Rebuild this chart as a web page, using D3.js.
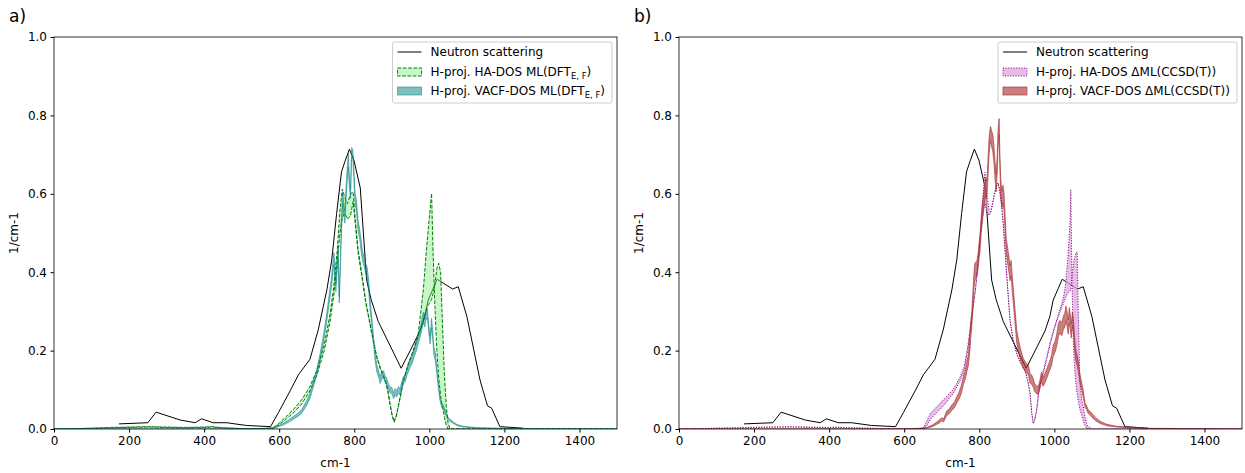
<!DOCTYPE html>
<html>
<head>
<meta charset="utf-8">
<script src="https://cdn.jsdelivr.net/npm/d3@7"></script>
<style>
  body { margin: 0; background: #fff; }
  svg { font-family: "DejaVu Sans", sans-serif; }
</style>
</head>
<body>
<div id="chart"></div>
<script>
// Neutron scattering (same curve in both panels)
const neutronX = [173, 250, 272, 336, 376, 393, 424, 460, 513, 577, 598, 629, 651, 682, 704, 727, 740, 753, 766, 775, 787, 799, 816, 833, 845, 864, 925, 949, 975, 988, 997, 1021, 1062, 1077, 1100, 1135, 1155, 1166, 1188, 1250];
const neutronY = [0.013, 0.016, 0.043, 0.023, 0.016, 0.026, 0.016, 0.016, 0.009, 0.006, 0.042, 0.097, 0.138, 0.178, 0.253, 0.355, 0.431, 0.55, 0.656, 0.682, 0.714, 0.686, 0.615, 0.38, 0.33, 0.274, 0.155, 0.2, 0.25, 0.287, 0.329, 0.382, 0.357, 0.363, 0.287, 0.125, 0.059, 0.053, 0.006, 0.002];

// a) H-proj. HA-DOS ML(DFT_E,F): two curves, band between them
const haA_x  = [0, 60, 100, 150, 200, 250, 300, 350, 400, 420, 450, 500, 550, 580, 600, 620, 640, 660, 680, 700, 720, 735, 745, 755, 762, 768, 775, 782, 790, 797, 803, 810, 820, 830, 840, 850, 860, 870, 880, 885, 890, 895, 900, 906, 912, 917, 925, 931, 945, 957, 970, 984, 993, 1000, 1006, 1010, 1015, 1020, 1025, 1030, 1035, 1040, 1045, 1050, 1055, 1100, 1500];
const haA_y1 = [0, 0.001, 0.002, 0.004, 0.005, 0.006, 0.005, 0.004, 0.005, 0.006, 0.003, 0.001, 0.0005, 0, 0.015, 0.033, 0.052, 0.075, 0.105, 0.148, 0.215, 0.29, 0.36, 0.46, 0.56, 0.612, 0.59, 0.575, 0.6, 0.605, 0.53, 0.46, 0.397, 0.33, 0.28, 0.23, 0.185, 0.155, 0.13, 0.117, 0.095, 0.066, 0.04, 0.019, 0.035, 0.057, 0.095, 0.125, 0.17, 0.2, 0.24, 0.355, 0.465, 0.54, 0.601, 0.45, 0.31, 0.2, 0.13, 0.085, 0.055, 0.03, 0.01, 0, 0, 0, 0];
const haA_y2 = [0, 0.001, 0.002, 0.003, 0.004, 0.005, 0.004, 0.003, 0.004, 0.005, 0.003, 0.001, 0.0005, 0, 0.011, 0.026, 0.043, 0.064, 0.094, 0.136, 0.2, 0.272, 0.338, 0.43, 0.5, 0.54, 0.55, 0.535, 0.545, 0.58, 0.52, 0.45, 0.39, 0.325, 0.276, 0.226, 0.182, 0.152, 0.128, 0.115, 0.093, 0.064, 0.038, 0.017, 0.033, 0.055, 0.092, 0.122, 0.167, 0.197, 0.236, 0.278, 0.31, 0.32, 0.33, 0.345, 0.37, 0.41, 0.423, 0.4, 0.27, 0.14, 0.06, 0.015, 0, 0, 0];

// a) H-proj. VACF-DOS ML(DFT_E,F): noisy narrow band
const vacfA_x  = [0, 100, 200, 300, 400, 500, 560, 590, 610, 625, 640, 650, 660, 673, 682, 691, 700, 709, 718, 727, 733, 740, 744, 746, 749, 751, 754, 757, 760, 763, 766, 769, 772, 775, 778, 781, 784, 787, 790, 793, 796, 799, 802, 806, 810, 814, 818, 822, 826, 830, 834, 838, 842, 846, 851, 856, 860, 865, 869, 873, 878, 882, 886, 890, 895, 900, 905, 909, 913, 918, 922, 926, 931, 936, 940, 945, 949, 954, 958, 962, 967, 971, 975, 979, 984, 988, 991, 995, 998, 1002, 1006, 1009, 1012, 1016, 1019, 1023, 1028, 1033, 1037, 1042, 1046, 1050, 1055, 1064, 1073, 1085, 1100, 1135, 1200, 1300, 1500];
const vacfA_lo = [0, 0, 0, 0, 0, 0, 0.001, 0.003, 0.01, 0.017, 0.026, 0.032, 0.04, 0.06, 0.078, 0.107, 0.138, 0.175, 0.22, 0.275, 0.318, 0.368, 0.405, 0.42, 0.378, 0.35, 0.395, 0.435, 0.322, 0.405, 0.5, 0.575, 0.545, 0.525, 0.585, 0.628, 0.668, 0.615, 0.588, 0.69, 0.695, 0.635, 0.578, 0.552, 0.506, 0.488, 0.455, 0.428, 0.416, 0.398, 0.386, 0.356, 0.308, 0.268, 0.22, 0.17, 0.146, 0.132, 0.116, 0.126, 0.131, 0.12, 0.113, 0.102, 0.093, 0.09, 0.078, 0.087, 0.082, 0.092, 0.087, 0.101, 0.116, 0.121, 0.136, 0.148, 0.158, 0.166, 0.18, 0.19, 0.204, 0.22, 0.233, 0.248, 0.272, 0.26, 0.278, 0.283, 0.25, 0.217, 0.258, 0.23, 0.19, 0.175, 0.15, 0.112, 0.074, 0.055, 0.052, 0.041, 0.031, 0.024, 0.019, 0.014, 0.009, 0.006, 0.004, 0.002, 0.001, 0.0005, 0];
const vacfA_hi = [0, 0, 0, 0, 0, 0, 0.002, 0.005, 0.014, 0.023, 0.034, 0.04, 0.05, 0.072, 0.092, 0.123, 0.152, 0.193, 0.24, 0.297, 0.342, 0.392, 0.435, 0.45, 0.402, 0.372, 0.425, 0.465, 0.338, 0.435, 0.54, 0.605, 0.575, 0.555, 0.615, 0.662, 0.704, 0.645, 0.612, 0.718, 0.712, 0.665, 0.602, 0.582, 0.534, 0.512, 0.485, 0.452, 0.444, 0.422, 0.414, 0.384, 0.332, 0.292, 0.24, 0.19, 0.164, 0.148, 0.134, 0.144, 0.149, 0.136, 0.131, 0.118, 0.107, 0.106, 0.092, 0.103, 0.098, 0.108, 0.103, 0.119, 0.134, 0.139, 0.154, 0.168, 0.178, 0.184, 0.2, 0.21, 0.226, 0.24, 0.255, 0.272, 0.298, 0.28, 0.302, 0.307, 0.27, 0.237, 0.282, 0.25, 0.21, 0.195, 0.168, 0.128, 0.086, 0.065, 0.062, 0.049, 0.039, 0.03, 0.025, 0.018, 0.012, 0.008, 0.006, 0.003, 0.002, 0.001, 0];

// b) H-proj. HA-DOS ΔML(CCSD(T)): two curves, band between them
const haB_x  = [0, 60, 100, 150, 200, 250, 300, 350, 400, 420, 450, 500, 550, 600, 630, 650, 660, 670, 680, 690, 700, 710, 720, 730, 740, 750, 760, 770, 780, 790, 797, 803, 808, 812, 815, 818, 822, 826, 830, 835, 840, 845, 850, 855, 860, 865, 870, 875, 882, 890, 900, 910, 922, 930, 935, 940, 944, 948, 953, 960, 970, 980, 990, 1000, 1010, 1020, 1026, 1030, 1035, 1039, 1042, 1044, 1047, 1051, 1055, 1058, 1061, 1064, 1068, 1073, 1077, 1082, 1087, 1100, 1500];
const haB_y1 = [0, 0.001, 0.002, 0.003, 0.004, 0.005, 0.006, 0.005, 0.004, 0.005, 0.003, 0.002, 0.001, 0, 0, 0.002, 0.02, 0.04, 0.05, 0.06, 0.07, 0.08, 0.09, 0.1, 0.117, 0.135, 0.16, 0.215, 0.29, 0.36, 0.43, 0.5, 0.57, 0.62, 0.655, 0.62, 0.585, 0.56, 0.555, 0.575, 0.6, 0.62, 0.627, 0.6, 0.567, 0.51, 0.44, 0.37, 0.278, 0.23, 0.193, 0.17, 0.15, 0.12, 0.095, 0.04, 0.015, 0.025, 0.05, 0.11, 0.145, 0.185, 0.225, 0.26, 0.29, 0.32, 0.345, 0.37, 0.423, 0.48, 0.533, 0.61, 0.38, 0.21, 0.14, 0.11, 0.09, 0.07, 0.05, 0.035, 0.02, 0.008, 0, 0, 0];
const haB_y2 = [0, 0.001, 0.002, 0.003, 0.004, 0.005, 0.005, 0.004, 0.003, 0.004, 0.003, 0.002, 0.001, 0, 0, 0.001, 0.008, 0.025, 0.035, 0.045, 0.055, 0.065, 0.078, 0.09, 0.107, 0.125, 0.15, 0.205, 0.28, 0.355, 0.425, 0.49, 0.53, 0.56, 0.575, 0.56, 0.55, 0.545, 0.55, 0.57, 0.595, 0.615, 0.628, 0.61, 0.57, 0.505, 0.435, 0.365, 0.275, 0.228, 0.19, 0.168, 0.148, 0.118, 0.093, 0.038, 0.014, 0.024, 0.048, 0.105, 0.14, 0.18, 0.22, 0.255, 0.285, 0.31, 0.325, 0.335, 0.345, 0.35, 0.352, 0.355, 0.39, 0.423, 0.44, 0.45, 0.452, 0.295, 0.125, 0.075, 0.057, 0.03, 0.01, 0, 0];

// b) H-proj. VACF-DOS ΔML(CCSD(T)): noisy band
const vacfB_x  = [0, 300, 500, 600, 640, 660, 675, 687, 695, 700, 705, 713, 720, 727, 733, 740, 746, 752, 758, 763, 767, 771, 775, 778, 780, 783, 786, 788, 791, 794, 797, 800, 802, 805, 808, 811, 814, 817, 820, 823, 826, 828, 830, 833, 836, 839, 842, 845, 848, 850, 853, 855, 857, 860, 863, 866, 869, 872, 876, 879, 882, 885, 888, 891, 895, 900, 905, 910, 917, 922, 926, 931, 935, 940, 944, 948, 953, 957, 962, 966, 970, 975, 980, 985, 989, 993, 997, 1002, 1006, 1011, 1015, 1020, 1024, 1028, 1031, 1034, 1037, 1040, 1042, 1045, 1048, 1051, 1054, 1057, 1061, 1064, 1068, 1073, 1077, 1082, 1086, 1090, 1095, 1100, 1110, 1122, 1140, 1166, 1200, 1250, 1350, 1500];
const vacfB_lo = [0, 0, 0, 0, 0.001, 0.002, 0.006, 0.012, 0.016, 0.021, 0.018, 0.034, 0.039, 0.048, 0.053, 0.066, 0.076, 0.09, 0.114, 0.128, 0.147, 0.162, 0.2, 0.24, 0.258, 0.31, 0.36, 0.378, 0.386, 0.39, 0.41, 0.44, 0.452, 0.5, 0.528, 0.555, 0.578, 0.598, 0.588, 0.638, 0.698, 0.72, 0.735, 0.72, 0.708, 0.68, 0.638, 0.605, 0.658, 0.718, 0.75, 0.66, 0.598, 0.562, 0.578, 0.558, 0.498, 0.445, 0.42, 0.4, 0.378, 0.39, 0.35, 0.318, 0.272, 0.218, 0.194, 0.176, 0.155, 0.148, 0.142, 0.138, 0.118, 0.113, 0.106, 0.095, 0.09, 0.088, 0.104, 0.122, 0.109, 0.118, 0.13, 0.143, 0.153, 0.163, 0.186, 0.196, 0.21, 0.236, 0.245, 0.238, 0.253, 0.26, 0.276, 0.262, 0.242, 0.27, 0.26, 0.232, 0.262, 0.244, 0.205, 0.176, 0.162, 0.146, 0.119, 0.098, 0.082, 0.054, 0.05, 0.04, 0.035, 0.03, 0.021, 0.014, 0.008, 0.005, 0.003, 0.001, 0.0005, 0];
const vacfB_hi = [0, 0, 0, 0, 0.002, 0.004, 0.01, 0.018, 0.024, 0.029, 0.026, 0.046, 0.051, 0.062, 0.067, 0.082, 0.094, 0.11, 0.136, 0.152, 0.173, 0.19, 0.24, 0.28, 0.298, 0.35, 0.4, 0.422, 0.426, 0.43, 0.45, 0.48, 0.496, 0.54, 0.572, 0.597, 0.622, 0.642, 0.632, 0.682, 0.742, 0.76, 0.772, 0.76, 0.752, 0.726, 0.682, 0.649, 0.702, 0.762, 0.792, 0.7, 0.642, 0.606, 0.622, 0.602, 0.542, 0.485, 0.46, 0.44, 0.416, 0.43, 0.39, 0.356, 0.308, 0.252, 0.226, 0.204, 0.181, 0.172, 0.168, 0.162, 0.142, 0.137, 0.128, 0.115, 0.11, 0.108, 0.126, 0.146, 0.131, 0.142, 0.154, 0.167, 0.177, 0.189, 0.214, 0.224, 0.24, 0.27, 0.277, 0.272, 0.287, 0.296, 0.314, 0.298, 0.278, 0.31, 0.296, 0.268, 0.298, 0.278, 0.235, 0.204, 0.188, 0.172, 0.141, 0.118, 0.098, 0.066, 0.06, 0.05, 0.045, 0.04, 0.029, 0.02, 0.012, 0.007, 0.005, 0.002, 0.001, 0];

// tick values
const xTicks = [0, 200, 400, 600, 800, 1000, 1200, 1400];
const yTicks = [0, 0.2, 0.4, 0.6, 0.8, 1.0];

const W = 1245, H = 473;
const FS = 12;
const svg = d3.select("#chart").append("svg")
    .attr("width", W).attr("height", H);

const panelTop = 37, panelBottom = 429, panelWidth = 563;

function zipXY(xs, ys) { return xs.map((x, i) => ({x: x, y: ys[i]})); }
function zipBand(xs, a, b) { return xs.map((x, i) => ({x: x, a: a[i], b: b[i]})); }

function drawPanel(left, letter, bands, legendItems) {
    const x = d3.scaleLinear().domain([0, 1500]).range([left, left + panelWidth]);
    const y = d3.scaleLinear().domain([0, 1]).range([panelBottom, panelTop]);

    const g = svg.append("g");
    const clipId = "clip" + letter;
    svg.append("clipPath").attr("id", clipId)
        .append("rect")
        .attr("x", left).attr("y", panelTop)
        .attr("width", panelWidth).attr("height", panelBottom - panelTop);

    const plot = g.append("g").attr("clip-path", `url(#${clipId})`);

    // neutron line first
    const line = d3.line().x(d => x(d.x)).y(d => y(d.y));
    plot.append("path")
        .datum(zipXY(neutronX, neutronY))
        .attr("d", line)
        .attr("fill", "none")
        .attr("stroke", "black")
        .attr("stroke-width", 1);

    const area = d3.area().x(d => x(d.x)).y0(d => y(d.a)).y1(d => y(d.b));
    bands.forEach(b => {
        plot.append("path")
            .datum(zipBand(b.xs, b.a, b.b))
            .attr("d", area)
            .attr("fill", b.fill)
            .attr("fill-opacity", b.fillOpacity)
            .attr("stroke", b.stroke)
            .attr("stroke-opacity", b.strokeOpacity)
            .attr("stroke-width", b.strokeWidth)
            .attr("stroke-dasharray", b.dash || null);
    });

    // axes
    g.append("g")
        .attr("transform", `translate(0,${panelBottom})`)
        .call(d3.axisBottom(x).tickValues(xTicks).tickFormat(d3.format("d")).tickSizeOuter(0).tickSize(3.5).tickPadding(3.5))
        .call(s => s.selectAll("text").attr("font-size", FS).attr("font-family", "DejaVu Sans").attr("fill", "#000"))
        .call(s => s.select(".domain").remove());
    g.append("g")
        .attr("transform", `translate(${left},0)`)
        .call(d3.axisLeft(y).tickValues(yTicks).tickFormat(d3.format(".1f")).tickSizeOuter(0).tickSize(3.5).tickPadding(3.5))
        .call(s => s.selectAll("text").attr("font-size", FS).attr("font-family", "DejaVu Sans").attr("fill", "#000"))
        .call(s => s.select(".domain").remove());

    // frame (spines)
    g.append("rect")
        .attr("x", left).attr("y", panelTop)
        .attr("width", panelWidth).attr("height", panelBottom - panelTop)
        .attr("fill", "none").attr("stroke", "black").attr("stroke-width", 0.8);

    // labels
    g.append("text")
        .attr("x", left + panelWidth / 2).attr("y", 467)
        .attr("text-anchor", "middle").attr("font-size", FS)
        .text("cm-1");
    g.append("text")
        .attr("transform", `translate(${left - 36},${(panelTop + panelBottom) / 2}) rotate(-90)`)
        .attr("text-anchor", "middle").attr("font-size", FS)
        .text("1/cm-1");
    g.append("text")
        .attr("x", left - 45).attr("y", 22)
        .attr("font-size", 17)
        .text(letter + ")");

    // legend
    const leg = g.append("g");
    const box = leg.append("rect")
        .attr("fill", "white").attr("fill-opacity", 0.8)
        .attr("stroke", "#cccccc").attr("stroke-width", 1)
        .attr("rx", 2);
    const rowY = [52, 72, 91];
    let maxW = 0;
    const texts = [];
    legendItems.forEach((it, i) => {
        const t = leg.append("text")
            .attr("y", rowY[i] + 4)
            .attr("font-size", FS);
        it.parts.forEach(p => {
            const ts = t.append("tspan").text(p.t);
            if (p.sub) ts.attr("font-size", 8.5).attr("dy", 3);
            if (p.after) ts.attr("dy", -3);
        });
        texts.push(t);
        maxW = Math.max(maxW, t.node().getComputedTextLength());
    });
    const boxRight = left + panelWidth - 5;
    const boxLeft = boxRight - (maxW + 45);
    box.attr("x", boxLeft).attr("y", 42).attr("width", boxRight - boxLeft).attr("height", 61);
    texts.forEach(t => t.attr("x", boxLeft + 38));
    legendItems.forEach((it, i) => {
        const hx = boxLeft + 5;
        if (it.type === "line") {
            leg.append("line")
                .attr("x1", hx).attr("x2", hx + 24)
                .attr("y1", rowY[i]).attr("y2", rowY[i])
                .attr("stroke", "black").attr("stroke-width", 1);
        } else {
            const b = bands[it.band];
            leg.append("rect")
                .attr("x", hx).attr("y", rowY[i] - 4)
                .attr("width", 24).attr("height", 8)
                .attr("fill", b.fill).attr("fill-opacity", b.fillOpacity)
                .attr("stroke", b.stroke).attr("stroke-opacity", b.strokeOpacity)
                .attr("stroke-width", b.strokeWidth)
                .attr("stroke-dasharray", b.dash || null);
        }
    });
}

// panel a
drawPanel(54, "a", [
    {xs: haA_x, a: haA_y1, b: haA_y2, fill: "#90ee90", fillOpacity: 0.5, stroke: "#008000", strokeOpacity: 1, strokeWidth: 1, dash: "3.7,1.6"},
    {xs: vacfA_x, a: vacfA_lo, b: vacfA_hi, fill: "#008080", fillOpacity: 0.5, stroke: "#008080", strokeOpacity: 0.5, strokeWidth: 1}
], [
    {type: "line", parts: [{t: "Neutron scattering"}]},
    {type: "band", band: 0, parts: [{t: "H-proj. HA-DOS ML(DFT"}, {t: "E, F", sub: true}, {t: ")", after: true}]},
    {type: "band", band: 1, parts: [{t: "H-proj. VACF-DOS ML(DFT"}, {t: "E, F", sub: true}, {t: ")", after: true}]}
]);

// panel b
drawPanel(679, "b", [
    {xs: haB_x, a: haB_y1, b: haB_y2, fill: "#dda0dd", fillOpacity: 0.7, stroke: "#800080", strokeOpacity: 1, strokeWidth: 1, dash: "1,1.65"},
    {xs: vacfB_x, a: vacfB_lo, b: vacfB_hi, fill: "#a52a2a", fillOpacity: 0.6, stroke: "#a52a2a", strokeOpacity: 0.6, strokeWidth: 1}
], [
    {type: "line", parts: [{t: "Neutron scattering"}]},
    {type: "band", band: 0, parts: [{t: "H-proj. HA-DOS ΔML(CCSD(T))"}]},
    {type: "band", band: 1, parts: [{t: "H-proj. VACF-DOS ΔML(CCSD(T))"}]}
]);
</script>
</body>
</html>
